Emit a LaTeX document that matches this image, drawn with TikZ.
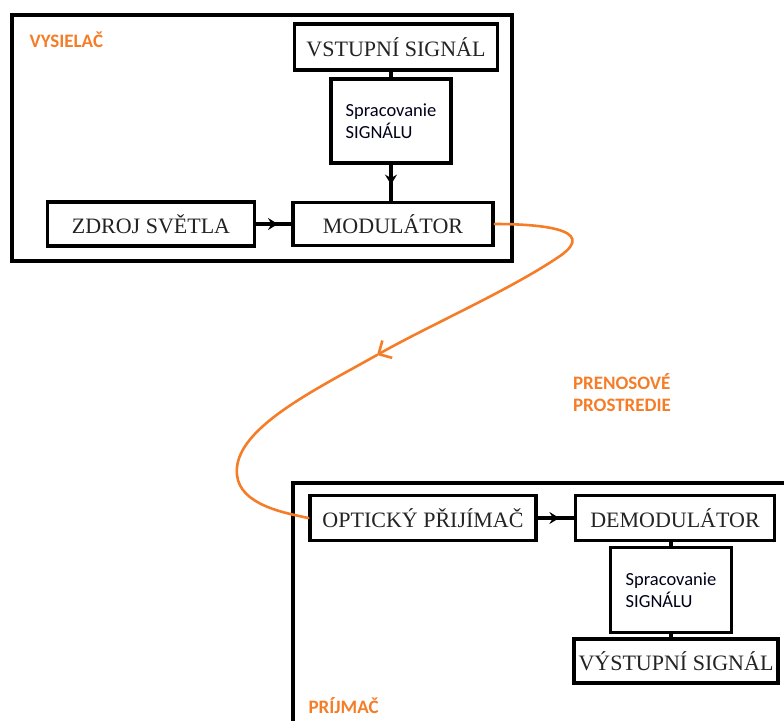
\documentclass[tikz,border=0pt]{standalone}
\usepackage{fontspec}
\setmainfont{Liberation Serif}
\setsansfont{Carlito}
\usepackage{tikz}
\usetikzlibrary{arrows.meta,decorations.markings}
\definecolor{fiber}{RGB}{245,125,40}
\definecolor{ink}{RGB}{35,35,35}

\tikzset{
  blok/.style={draw,line width=3.2pt,inner sep=0pt,font=\fontsize{22}{24}\selectfont,text=ink},
  sprac/.style={draw,line width=3.2pt,inner sep=0pt,align=left,font=\sffamily\fontsize{18.5}{22}\selectfont,text=black!90!blue},
  popis/.style={text=fiber,font=\sffamily\bfseries\fontsize{19}{22}\selectfont,align=left},
  spoj/.style={line width=3.2pt},
  sipka/.style={spoj,postaction={decorate,decoration={markings,
    mark=at position #1 with {\arrow{Stealth[length=10pt,width=12pt,inset=3.5pt]}}}}},
}

\begin{document}
\begin{tikzpicture}[x=1pt,y=-1pt]
\useasboundingbox (0,0) rectangle (784,721);
% vysielac
\draw[line width=3.2pt] (12,15) rectangle (512,261);
\node[popis,anchor=west] (vys) at (26,40) {VYSIELAČ};
\node[blok,minimum width=203pt,minimum height=46pt] (vstup) at (396,47) {VSTUPNÍ SIGNÁL};
\node[sprac,minimum width=120pt,minimum height=84pt] (spracA) at (391,121) {Spracovanie\\SIGNÁLU};
\node[blok,minimum width=207pt,minimum height=44pt] (zdroj) at (151,224) {ZDROJ SVĚTLA};
\node[blok,minimum width=200pt,minimum height=43pt] (modul) at (393,224) {MODULÁTOR};
\draw[spoj] (vstup.south -| spracA.north) -- (spracA.north);
\draw[sipka=0.55] (spracA.south) -- (spracA.south |- modul.north);
\draw[sipka=0.62] (zdroj.east) -- (modul.east -| modul.west);
% prijimac
\draw[line width=3.2pt] (784,483) -| (293,721);
\node[popis,anchor=west] (prij) at (305,706) {PRÍJMAČ};
\node[blok,minimum width=226pt,minimum height=45pt] (opt) at (423,518) {OPTICKÝ PŘIJÍMAČ};
\node[blok,minimum width=199pt,minimum height=45pt] (demod) at (675,518) {DEMODULÁTOR};
\node[sprac,minimum width=121pt,minimum height=85pt] (spracB) at (671,590) {Spracovanie\\SIGNÁLU};
\node[blok,minimum width=204pt,minimum height=44pt] (vystup) at (676,661) {VÝSTUPNÍ SIGNÁL};
\draw[sipka=0.6] (opt.east) -- (demod.west);
\draw[spoj] (demod.south -| spracB.north) -- (spracB.north);
\draw[spoj] (spracB.south) -- (spracB.south |- vystup.north);
% prenosove prostredie
\node[popis] (pren) at (622,393) {PRENOSOVÉ\\PROSTREDIE};
\coordinate (ohyb) at (377,355);
\draw[fiber,line width=2.6pt,line cap=round,-{Straight Barb[length=10pt,width=20pt,line width=2.6pt]}]
  (modul.east) .. controls (535,224) and (600,228) .. (560,256)
  .. controls (510,290) and (430,325) .. (ohyb);
\draw[fiber,line width=2.6pt,line cap=round]
  (ohyb) .. controls (313,391) and (232,430) .. (237,475)
  .. controls (240,505) and (285,513) .. (opt.west);
\end{tikzpicture}
\end{document}
